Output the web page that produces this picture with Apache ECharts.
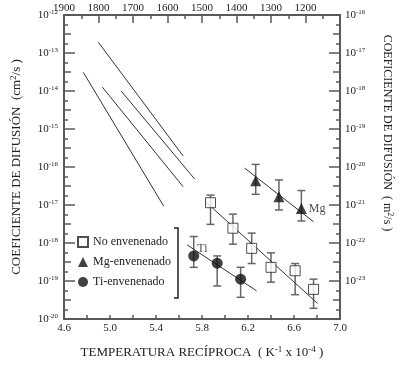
<!DOCTYPE html>
<html><head><meta charset="utf-8">
<script src="https://cdn.jsdelivr.net/npm/echarts@6/dist/echarts.min.js"></script>
<style>html,body{margin:0;padding:0;background:#fff}#c{width:400px;height:366px}</style>
</head><body><div id="c"></div>
<script>
const FONT = '"Liberation Serif","Times New Roman",serif';

// Tick labels
const bottomTicks = [4.6, 5.0, 5.4, 5.8, 6.2, 6.6, 7.0];
const topTicks = [1900, 1800, 1700, 1600, 1500, 1400, 1300, 1200];
const leftExp = [-12, -13, -14, -15, -16, -17, -18, -19, -20];
const rightExp = [-16, -17, -18, -19, -20, -21, -22, -23, -24];

// No envenenado (open squares), D in cm2/s
const noEnvX  = [5.874, 6.069, 6.232, 6.400, 6.610, 6.770];
const noEnvD  = [1.15e-17, 2.45e-18, 7.24e-19, 2.29e-19, 1.86e-19, 6.03e-20];
const noEnvHi = [1.82e-17, 5.75e-18, 1.82e-18, 5.50e-19, 2.88e-19, 1.12e-19];
const noEnvLo = [3.09e-18, 9.33e-19, 2.88e-19, 9.33e-20, 4.37e-20, 1.91e-20];

// Mg-envenenado (filled triangles)
const mgX  = [6.267, 6.469, 6.664];
const mgD  = [4.37e-17, 1.66e-17, 8.13e-18];
const mgHi = [1.17e-16, 4.57e-17, 2.40e-17];
const mgLo = [1.91e-17, 7.41e-18, 3.80e-18];

// Ti-envenenado (filled circles)
const tiX  = [5.728, 5.932, 6.136];
const tiD  = [4.57e-19, 2.95e-19, 1.12e-19];
const tiHi = [1.48e-18, 4.57e-19, 2.29e-19];
const tiLo = [2.29e-19, 7.41e-20, 3.72e-20];

// Fit lines
const noEnvFitX = [5.830, 6.805], noEnvFitD = [1.23e-17, 2.57e-20];
const mgFitX = [6.171, 6.770],    mgFitD = [9.33e-17, 3.63e-18];
const tiFitX = [5.671, 6.275],    tiFitD = [8.91e-19, 5.50e-20];

// High-temperature literature lines
const litAX = [4.899, 5.636], litAD = [1.91e-13, 1.95e-16];
const litBX = [5.097, 5.737], litBD = [1.00e-14, 4.79e-17];
const litCX = [4.934, 5.636], litCD = [1.26e-14, 3.02e-17];
const litDX = [4.768, 5.467], litDD = [3.09e-14, 9.33e-18];

const AX = '#5a5a5a';
const TXT = '#222';
const supRich = {
  b: {fontFamily: FONT, fontSize: 11, color: TXT},
  s: {fontFamily: FONT, fontSize: 7, color: TXT, padding: [0, 0, 6, 0]}
};
const nameRich = {
  s: {fontFamily: FONT, fontSize: 9, color: TXT, padding: [0, 0, 7, 0]}
};

function pairs(xs, ys) { return xs.map((x, i) => [x, ys[i]]); }
function expLabel(list) {
  return v => {
    const e = Math.round(Math.log10(v));
    return list.includes(e) ? '{b|10}{s|' + e + '}' : '';
  };
}
function errSeries(xs, lo, hi) {
  return {
    type: 'custom', xAxisIndex: 0, yAxisIndex: 0, silent: true, z: 2,
    data: xs.map((x, i) => [x, lo[i], hi[i]]),
    encode: {x: 0, y: [1, 2]},
    renderItem(params, api) {
      const a = api.coord([api.value(0), api.value(2)]);
      const b = api.coord([api.value(0), api.value(1)]);
      const w = 4;
      const st = {stroke: '#666', lineWidth: 1.5};
      return {type: 'group', children: [
        {type: 'line', shape: {x1: a[0], y1: a[1], x2: b[0], y2: b[1]}, style: st},
        {type: 'line', shape: {x1: a[0] - w, y1: a[1], x2: a[0] + w, y2: a[1]}, style: st},
        {type: 'line', shape: {x1: b[0] - w, y1: b[1], x2: b[0] + w, y2: b[1]}, style: st}
      ]};
    }
  };
}
function lineSeries(xs, ys) {
  return {type: 'line', xAxisIndex: 0, yAxisIndex: 0, data: pairs(xs, ys), symbol: 'none',
    silent: true, z: 3, lineStyle: {color: '#333', width: 1}};
}
const tickAxisBase = {
  type: 'value', interval: 0.5, splitLine: {show: false},
  axisLine: {show: false}, axisLabel: {show: false},
  axisTick: {show: true, inside: true, length: 7, lineStyle: {color: AX, width: 1.5}},
  minorTick: {show: true, splitNumber: 2, length: 4, lineStyle: {color: AX, width: 1.5}}
};

const chart = echarts.init(document.getElementById('c'));
chart.setOption({
  backgroundColor: '#fff',
  animation: false,
  grid: {left: 64, right: 60, top: 15, bottom: 47, containLabel: false, outerBoundsMode: 'none'},
  legend: {
    orient: 'vertical', left: 72, top: 231, itemWidth: 10, itemHeight: 10, itemGap: 8,
    selectedMode: false,
    data: ['No envenenado', 'Mg-envenenado', 'Ti-envenenado'],
    textStyle: {fontFamily: FONT, fontSize: 12, color: TXT}
  },
  xAxis: [{
    type: 'value', position: 'bottom', min: 4.6, max: 7.0, interval: 0.2,
    splitLine: {show: false},
    axisLine: {onZero: false, lineStyle: {color: AX, width: 2}},
    axisTick: {inside: true, length: 4, lineStyle: {color: AX, width: 1.5}},
    axisLabel: {margin: 4, fontFamily: FONT, fontSize: 11, color: TXT,
      formatter: v => bottomTicks.some(t => Math.abs(t - v) < 1e-6) ? v.toFixed(1) : ''},
    name: 'TEMPERATURA RECÍPROCA  ( K{s|-1} x 10{s|-4} )', nameLocation: 'middle', nameGap: 26,
    nameTextStyle: {fontFamily: FONT, fontSize: 13, color: TXT, rich: nameRich}
  }, {
    type: 'value', position: 'top', min: 1100, max: 1900, interval: 100, inverse: true,
    splitLine: {show: false},
    axisLine: {onZero: false, lineStyle: {color: AX, width: 2}},
    axisTick: {inside: true, length: 8, lineStyle: {color: AX, width: 1.5}},
    minorTick: {show: true, splitNumber: 2, length: 4, lineStyle: {color: AX, width: 1.5}},
    axisLabel: {margin: 1, fontFamily: FONT, fontSize: 11, color: TXT,
      formatter: v => topTicks.includes(v) ? String(v) : ''}
  }],
  yAxis: [{
    type: 'log', logBase: 10, position: 'left', min: 1e-20, max: 1e-12, splitNumber: 8,
    splitLine: {show: false},
    axisLine: {onZero: false, lineStyle: {color: AX, width: 2}},
    axisTick: {inside: true, length: 11, lineStyle: {color: AX, width: 1.5}},
    axisLabel: {margin: 6, formatter: expLabel(leftExp), rich: supRich},
    name: 'COEFICIENTE DE DIFUSIÓN  (cm{s|2}/s )', nameLocation: 'middle', nameGap: 39, nameRotate: 90,
    nameTextStyle: {fontFamily: FONT, fontSize: 13, color: TXT, rich: nameRich}
  }, {
    type: 'log', logBase: 10, position: 'right', min: 1e-24, max: 1e-16, splitNumber: 8,
    splitLine: {show: false},
    axisLine: {onZero: false, lineStyle: {color: AX, width: 2}},
    axisTick: {inside: true, length: 11, lineStyle: {color: AX, width: 1.5}},
    axisLabel: {margin: 5, formatter: expLabel(rightExp), rich: supRich}
  },
    Object.assign({position: 'left', min: -20, max: -12}, tickAxisBase),
    Object.assign({position: 'right', min: -24, max: -16}, tickAxisBase)
  ],
  graphic: [{
    type: 'polyline', silent: true,
    shape: {points: [[174, 228], [178, 228], [178, 298], [174, 298]]},
    style: {stroke: '#222', lineWidth: 1.5, fill: null}
  }, {
    type: 'text', x: 387, y: 133, rotation: -Math.PI / 2, silent: true,
    style: {text: 'COEFICIENTE DE DIFUSIÓN  ( m{s|2}/s )', fontFamily: FONT, fontSize: 12, fill: TXT,
      align: 'center', verticalAlign: 'middle',
      rich: {s: {fontFamily: FONT, fontSize: 8, fill: TXT, padding: [0, 0, 6, 0]}}}
  }],
  series: [
    errSeries(noEnvX, noEnvLo, noEnvHi),
    errSeries(mgX, mgLo, mgHi),
    errSeries(tiX, tiLo, tiHi),
    lineSeries(noEnvFitX, noEnvFitD),
    lineSeries(mgFitX, mgFitD),
    lineSeries(tiFitX, tiFitD),
    lineSeries(litAX, litAD),
    lineSeries(litBX, litBD),
    lineSeries(litCX, litCD),
    lineSeries(litDX, litDD),
    {type: 'scatter', name: 'No envenenado', xAxisIndex: 0, yAxisIndex: 0, z: 5,
      data: pairs(noEnvX, noEnvD), symbol: 'rect', symbolSize: 10,
      itemStyle: {color: '#fff', borderColor: '#222', borderWidth: 1}},
    {type: 'scatter', name: 'Mg-envenenado', xAxisIndex: 0, yAxisIndex: 0, z: 5,
      data: pairs(mgX, mgD).map((p, i, arr) => i === arr.length - 1
        ? {value: p, label: {show: true, position: 'right', distance: 2, formatter: 'Mg',
            fontFamily: FONT, fontSize: 12, color: TXT}}
        : p),
      symbol: 'triangle', symbolSize: 11, itemStyle: {color: '#111'}},
    {type: 'scatter', name: 'Ti-envenenado', xAxisIndex: 0, yAxisIndex: 0, z: 5,
      data: pairs(tiX, tiD).map((p, i) => i === 0
        ? {value: p, label: {show: true, position: 'right', distance: 0, offset: [-2, -7], formatter: 'Ti',
            fontFamily: FONT, fontSize: 12, color: TXT}}
        : p),
      symbol: 'circle', symbolSize: 11, itemStyle: {color: '#111'}}
  ]
});
</script>
</body></html>
